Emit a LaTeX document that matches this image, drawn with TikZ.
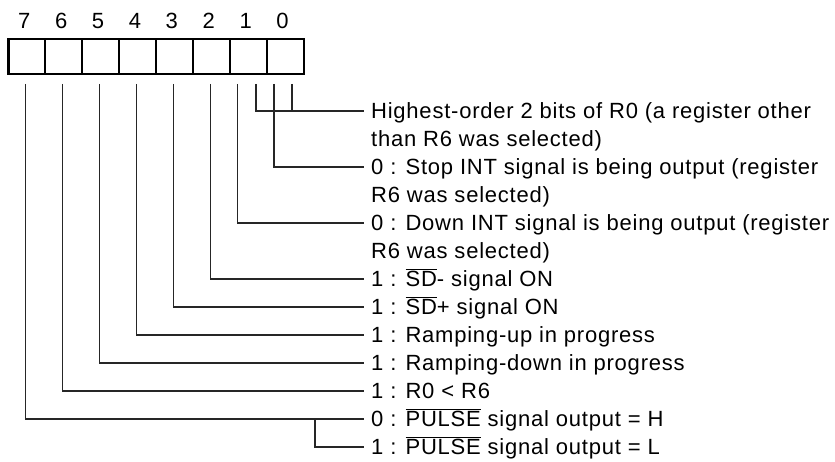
\documentclass[tikz,border=0pt]{standalone}
\usepackage{fontspec}
\setmainfont{Liberation Sans}
\newfontfamily\lblfont[LetterSpace=3.5]{Liberation Sans}
\newcommand\ovl[1]{\vbox{\hrule height 1bp\kern 1.6bp\hbox{#1}}}
\begin{document}
\begin{tikzpicture}[x=1bp,y=-1bp,
  bitbox/.style={draw, line width=2.2bp, minimum width=36.9bp, minimum height=34.5bp, inner sep=0pt, anchor=north west},
  bitnum/.style={font=\fontsize{22bp}{26bp}\selectfont, inner sep=0pt, anchor=base},
  lbl/.style={anchor=west, inner xsep=7bp, inner ysep=0pt, text height=15.75bp, text depth=0pt,
              font=\lblfont\fontsize{22bp}{26bp}\selectfont},
  conn/.style={line width=1.1bp, draw=black!85}]
\useasboundingbox (0,0) rectangle (835,462);

% register boxes, bit 7 on the left
\foreach \b [count=\p from 0] in {7,6,5,4,3,2,1,0}{
  \node[bitbox] (box\b) at ({7.3+36.9*\p},38.3) {};
  \node[bitnum] (num\b) at ({7.3+36.9*(\p+0.5)-1.5},28.3) {\b};
}

% description texts
\node[lbl] (t0)  at (364,111) {Highest-order 2 bits of R0 (a register other};
\node[lbl] (t1)  at (364,139) {than R6 was selected)};
\node[lbl] (t2)  at (364,167) {0 : Stop INT signal is being output (register};
\node[lbl] (t3)  at (364,195) {R6 was selected)};
\node[lbl] (t4)  at (364,223) {0 : Down INT signal is being output (register};
\node[lbl] (t5)  at (364,251) {R6 was selected)};
\node[lbl] (t6)  at (364,279) {1 : \ovl{SD}- signal ON};
\node[lbl] (t7)  at (364,307) {1 : \ovl{SD}+ signal ON};
\node[lbl] (t8)  at (364,335) {1 : Ramping-up in progress};
\node[lbl] (t9)  at (364,363) {1 : Ramping-down in progress};
\node[lbl] (t10) at (364,391) {1 : R0 < R6};
\node[lbl] (t11) at (364,419) {0 : \ovl{PULSE} signal output = H};
\node[lbl] (t12) at (364,447) {1 : \ovl{PULSE} signal output = L};

% tap points below the boxes
\coordinate (s7)  at (25.75,84);
\coordinate (s6)  at (62.65,84);
\coordinate (s5)  at (99.55,84);
\coordinate (s4)  at (136.45,84);
\coordinate (s3)  at (173.35,84);
\coordinate (s2)  at (210.25,84);
\coordinate (s1a) at (237.3,84);
\coordinate (s1b) at (256,84);
\coordinate (s0a) at (274,84);
\coordinate (s0b) at (292,84);
\coordinate (br)  at (315,419);

% connectors
\draw[conn] (s1b) |- (t0.west);
\draw[conn] (s0b) -- (s0b |- t0.west);
\draw[conn] (s0a) |- (t2.west);
\draw[conn] (s1a) |- (t4.west);
\draw[conn] (s2) |- (t6.west);
\draw[conn] (s3) |- (t7.west);
\draw[conn] (s4) |- (t8.west);
\draw[conn] (s5) |- (t9.west);
\draw[conn] (s6) |- (t10.west);
\draw[conn] (s7) |- (t11.west);
\draw[conn] (br) |- (t12.west);
\end{tikzpicture}
\end{document}
